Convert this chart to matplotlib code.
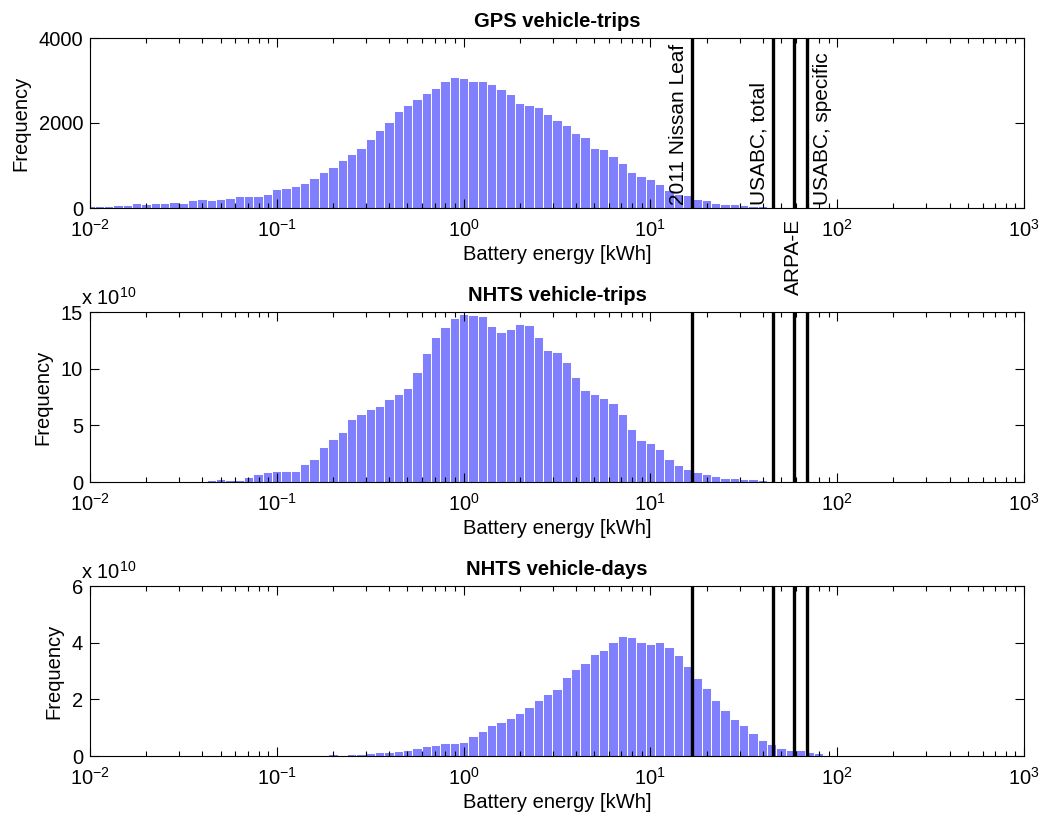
import numpy as np
import matplotlib
matplotlib.use("Agg")
import matplotlib.pyplot as plt
from matplotlib.ticker import LogLocator, FixedLocator, NullFormatter

plt.rcParams['font.family'] = ['Liberation Sans', 'DejaVu Sans']
plt.rcParams['mathtext.default'] = 'regular'

# histogram bins: centres at 10^(start + step*i), i = 0..n-1
bin_step = 0.05

# GPS vehicle-trips (counts)
gps_start = -2.0
gps_counts = [39, 39, 39, 63, 63, 110, 86, 110, 110, 133,
              110, 180, 219, 196, 219, 243, 274, 274, 290, 337,
              446, 470, 517, 579, 697, 853, 971, 1128, 1261, 1402,
              1629, 1832, 2012, 2279, 2435, 2568, 2709, 2819, 2999, 3093,
              3069, 2999, 2999, 2913, 2803, 2686, 2482, 2435, 2365, 2208,
              2075, 1958, 1754, 1668, 1417, 1378, 1214, 1057, 853, 744,
              673, 564, 432, 330, 298, 204, 180, 118, 94, 94,
              70, 55, 39, 30, 25, 12]

# NHTS vehicle-trips (x 10^10)
trips_start = -1.4
trips_counts = [0.09, 0.18, 0.26, 0.18, 0.18, 0.41, 0.71, 0.85, 0.94, 0.94,
                0.94, 1.56, 2.03, 3.06, 3.82, 4.41, 5.53, 6.03, 6.47, 6.71,
                7.29, 7.79, 8.32, 9.67, 11.38, 12.79, 13.64, 14.49, 14.82, 14.76,
                14.61, 13.73, 13.23, 13.47, 13.91, 13.82, 12.79, 11.67, 11.44, 10.61,
                9.23, 8.09, 7.73, 7.38, 6.94, 6.03, 4.67, 3.73, 3.47, 2.88,
                2.03, 1.53, 1.18, 0.85, 0.68, 0.5, 0.32, 0.32, 0.24, 0.24,
                0.15, 0.12, 0.09, 0.09, 0.1, 0.05]

# NHTS vehicle-days (x 10^10)
days_start = -0.8
days_counts = [0.035, 0.035, 0.07, 0.035, 0.07, 0.07, 0.11, 0.13, 0.13, 0.16,
               0.2, 0.27, 0.34, 0.40, 0.47, 0.47, 0.51, 0.69, 0.89, 1.09,
               1.20, 1.33, 1.53, 1.72, 1.96, 2.18, 2.35, 2.79, 3.06, 3.29,
               3.59, 3.73, 4.01, 4.25, 4.21, 4.01, 3.97, 4.01, 3.83, 3.56,
               3.16, 2.75, 2.41, 1.96, 1.62, 1.29, 1.09, 0.82, 0.58, 0.44,
               0.27, 0.2, 0.2, 0.14, 0.09, 0.05]

# battery reference sizes [kWh]
ref_names = ["2011 Nissan Leaf", "USABC, total", "ARPA-E", "USABC, specific"]
ref_kwh = [16.8, 45.4, 58.6, 69.0]

panels = [
    ("GPS vehicle-trips", gps_start, gps_counts, [0, 2000, 4000], False),
    ("NHTS vehicle-trips", trips_start, trips_counts, [0, 5, 10, 15], True),
    ("NHTS vehicle-days", days_start, days_counts, [0, 2, 4, 6], True),
]

bar_color = "#8080ff"
fs = 14.5


def draw_panel(ax, title, start, counts, yticks, scaled):
    c = start + bin_step * np.arange(len(counts))
    left = 10 ** (c - bin_step / 2)
    right = 10 ** (c + bin_step / 2)
    ax.bar(left, counts, width=right - left, align="edge",
           color=bar_color, edgecolor="white", linewidth=0.7, zorder=1)
    ax.set_xscale("log")
    ax.set_xlim(1e-2, 1e3)
    ax.set_ylim(yticks[0], yticks[-1])
    ax.set_yticks(yticks)
    ax.set_yticklabels([str(t) for t in yticks])
    ax.xaxis.set_major_locator(FixedLocator([10.0 ** e for e in range(-2, 4)]))
    ax.set_xticklabels([r"$10^{%d}$" % e for e in range(-2, 4)])
    ax.xaxis.set_minor_locator(LogLocator(base=10, subs=np.arange(2, 10), numticks=20))
    ax.xaxis.set_minor_formatter(NullFormatter())
    ax.tick_params(which="both", direction="in", top=True, right=True,
                   labelsize=fs)
    ax.tick_params(axis="x", which="major", pad=8)
    ax.tick_params(axis="y", which="major", pad=5)
    ax.tick_params(which="major", length=6.5, width=0.8)
    ax.tick_params(which="minor", length=3.5, width=0.8)
    for s in ax.spines.values():
        s.set_linewidth(0.8)
    ax.set_title(title, fontsize=fs, fontweight="bold", pad=8)
    ax.set_xlabel("Battery energy [kWh]", fontsize=fs, labelpad=3)
    ax.set_ylabel("Frequency", fontsize=fs, labelpad=6)
    if scaled:
        ax.text(-0.01, 1.02, r"x 10$^{10}$", transform=ax.transAxes,
                fontsize=fs, ha="left", va="bottom")
    for x in ref_kwh:
        ax.axvline(x, color="black", linewidth=2.4, zorder=3)


fig = plt.figure(figsize=(10.4, 8.17), dpi=100)
bottoms = [1 - 208 / 817, 1 - 482 / 817, 1 - 756 / 817]
axes = []
for (title, start, counts, yt, sc), b in zip(panels, bottoms):
    ax = fig.add_axes([90 / 1040, b, 934 / 1040, 170 / 817])
    draw_panel(ax, title, start, counts, yt, sc)
    axes.append(ax)

# reference labels on the top panel
top = axes[0]
tfs = 15
top.annotate(ref_names[0], xy=(ref_kwh[0], 0), xycoords=("data", "axes fraction"),
             xytext=(-3, 2), textcoords="offset points", rotation=90,
             ha="right", va="bottom", fontsize=tfs)
top.annotate(ref_names[1], xy=(ref_kwh[1], 0), xycoords=("data", "axes fraction"),
             xytext=(-3, 2), textcoords="offset points", rotation=90,
             ha="right", va="bottom", fontsize=tfs)
top.annotate(ref_names[2], xy=(ref_kwh[2], 0), xycoords=("data", "axes fraction"),
             xytext=(0, -8), textcoords="offset points", rotation=90,
             ha="center", va="top", fontsize=tfs, annotation_clip=False)
top.annotate(ref_names[3], xy=(ref_kwh[3], 0), xycoords=("data", "axes fraction"),
             xytext=(4, 2), textcoords="offset points", rotation=90,
             ha="left", va="bottom", fontsize=tfs)

fig.savefig("out.png", dpi=100)
